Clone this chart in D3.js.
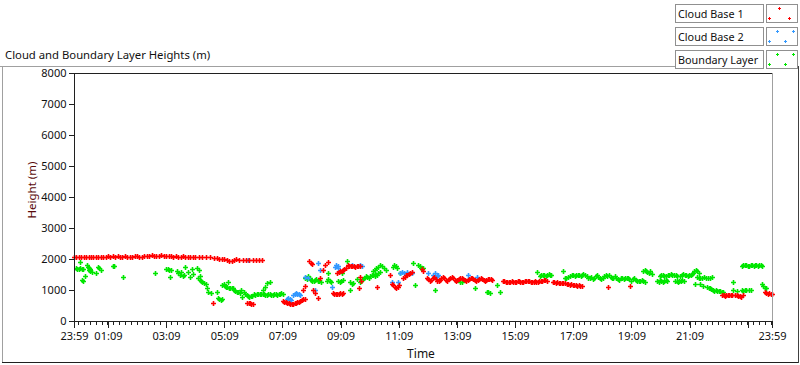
<!DOCTYPE html>
<html><head><meta charset="utf-8">
<script src="https://cdn.jsdelivr.net/npm/d3@7"></script>
<style>
html,body{margin:0;padding:0;background:#fff;}
svg{display:block;font-family:"Noto Sans","Open Sans",sans-serif;}
</style></head><body>
<svg id="c" width="800" height="365"></svg>
<script>
// ---- data (x = minutes after 23:59 of previous day, y = height in m) ----
const seriesNames = ["Cloud Base 1","Cloud Base 2","Boundary Layer"];
const seriesColors = ["#ff0000","#3399ff","#00e600"];

const cloudBase1 = [
[0,2060],[5,2050],[10,2070],[15,2060],[20,2070],[25,2060],[30,2080],[35,2070],[40,2080],[45,2070],[50,2080],[55,2080],[60,2070],[65,2080],[70,2090],[75,2080],[80,2090],[85,2080],[90,2090],[95,2070],[100,2080],[105,2090],[110,2080],[115,2070],[120,2080],[125,2090],[130,2100],[135,2080],[140,2070],[145,2090],[150,2100],[155,2110],[160,2120],[165,2110],[170,2100],[175,2110],[180,2120],[185,2110],[190,2100],[195,2110],[200,2090],[205,2080],[210,2090],[215,2080],[220,2080],[225,2090],[230,2080],[235,2070],[240,2080],[245,2070],[250,2070],[258,2060],[265,2060],[272,2050],[280,2050],[288,2040],[295,2020],[300,2010],[305,2000],[310,1990],[315,1980],[320,1950],[325,1930],[330,1960],[335,1990],[340,1980],[348,1970],[355,1980],[362,1970],[370,1960],[376,1980],[382,1970],[388,1970],
[287,580],[357,590],[360,580],[363,570],[366,560],[369,540],
[431,640],[434,610],[437,600],[440,580],[443,570],[446,560],[449,550],[452,560],[455,570],[458,580],[461,600],[464,620],[467,650],[470,670],[473,700],[476,720],
[477,1130],[472,1000],[485,1930],[488,1880],[491,1840],[493,1000],[497,900],[503,740],
[507,1390],[514,1650],[518,1800],[524,1900],
[534,900],[537,880],[540,880],[543,870],[546,880],[549,890],[552,880],[555,890],
[543,1550],[546,1580],[549,1600],[552,1620],[555,1650],[558,1680],[561,1700],[565,1800],[568,1780],[571,1760],[574,1780],[577,1770],[580,1750],[583,1760],[586,1780],[589,1760],
[590,1420],[588,1060],[592,1300],[625,1100],
[656,1200],[659,1150],[662,1100],[665,1080],[668,1100],[671,1150],[652,1480],
[679,1400],[682,1430],[685,1470],[688,1500],[691,1530],[694,1560],[697,1580],
[718,1680],[721,1620],
[728,1400],[731,1350],[734,1300],[737,1320],[740,1380],[743,1420],[746,1350],[749,1300],[752,1280],[755,1330],[758,1380],[761,1420],[764,1380],[767,1330],[770,1300],
[773,1350],[776,1400],[779,1430],[782,1380],[785,1330],[788,1300],[791,1320],[794,1370],[797,1400],[800,1380],[803,1350],[806,1320],[809,1300],
[812,1330],[815,1360],[818,1400],[821,1380],[824,1350],[827,1320],[830,1300],[833,1330],[836,1360],[839,1380],[842,1350],[845,1320],[848,1300],[851,1320],[854,1350],[857,1370],[860,1340],[863,1310],
[885,1300],[888,1280],[891,1260],[894,1250],[897,1260],[900,1270],[903,1280],[906,1260],[909,1250],[912,1270],[915,1290],[918,1280],[921,1260],[924,1250],[927,1270],[930,1290],[933,1300],[936,1290],[939,1280],
[942,1270],[945,1260],[948,1270],[951,1280],[954,1270],[957,1270],[960,1280],[963,1290],[966,1300],[969,1310],[972,1320],[975,1300],
[988,1260],[991,1250],[994,1240],[997,1250],[1000,1240],[1003,1230],[1006,1240],[1009,1230],[1012,1240],
[1017,1190],[1020,1180],[1023,1170],[1026,1180],[1029,1160],[1032,1170],[1035,1150],[1038,1140],[1041,1150],[1044,1140],[1047,1130],
[1102,1100],[1147,1130],
[1337,840],[1340,830],[1343,820],[1346,830],[1349,840],[1352,830],[1355,840],[1358,850],
[1364,830],[1367,850],[1370,820],[1373,800],[1377,790],[1380,830],
[1425,920],[1428,900],[1431,880],[1434,900],[1437,880],[1440,870]
];

const cloudBase2 = [
[359,1970],
[439,700],[442,730],[445,720],[447,690],
[452,850],[455,870],[458,900],[461,880],[464,860],[466,840],
[477,1420],[482,1400],[497,1000],[503,1870],[507,1650],
[538,1750],[541,1800],[544,1780],[545,1720],[532,1100],
[573,1800],[586,1790],[590,1800],[594,1780],
[656,1250],[668,1260],[672,1560],[676,1580],[680,1550],[687,1570],[697,1560],
[730,1550],[741,1480],[745,1550],[748,1450],[751,1500],
[813,1480],[831,1420]
];

const boundaryLayer = [
[4,1700],[7,1680],[10,1690],[13,1700],[16,1680],[19,1670],[12,1900],[17,1320],[19,1290],[23,1450],
[27,1800],[29,1750],[31,1700],[33,1680],[30,1650],[34,1620],[37,1580],[45,1550],
[50,1750],[52,1700],[55,1650],[80,1760],[83,1780],[101,1420],[167,1550],
[190,1680],[194,1680],[197,1650],[199,1420],[201,1650],
[212,1600],[215,1550],[218,1500],[220,1580],[224,1450],[227,1500],
[229,1750],[235,1580],[239,1420],[243,1680],[245,1520],[254,1720],[257,1660],[260,1450],
[256,1380],[259,1330],[262,1300],[265,1270],[268,1230],[272,1200],
[274,1060],[277,940],[283,900],[295,940],[297,740],[300,700],[303,680],[306,700],
[306,1150],[309,1200],[312,1130],[314,1100],[316,1100],[318,1260],[319,1080],[322,1060],[325,1080],[328,1050],
[330,1000],[333,960],[336,940],[339,920],[342,900],[344,1000],[347,780],[350,920],[353,880],
[356,840],[359,800],[362,780],[365,820],[368,800],
[371,860],[374,850],[377,870],[380,860],[383,880],[386,860],[389,870],[390,1000],[394,1100],[398,1230],[404,1260],
[392,860],[395,850],[398,840],[401,860],[404,870],[407,840],[410,850],[413,860],[416,870],[419,850],[422,860],[425,880],[428,900],[431,870],
[477,1400],[480,1350],[483,1450],[486,1380],[489,1330],[492,1300],[495,1280],[498,1320],[500,1350],[503,1300],[506,1280],[509,1250],
[522,1280],[525,1350],[528,1300],[531,1250],[524,1550],
[545,1300],[548,1250],[551,1280],[554,1320],[553,1550],[563,1940],
[569,1250],[573,1180],[576,1220],[569,1000],[584,1350],
[590,1250],[593,1300],[596,1350],[599,1400],[602,1450],[605,1420],[608,1380],[611,1450],[614,1500],[617,1480],[620,1520],
[622,1450],[625,1500],[628,1550],[631,1580],
[617,1600],[620,1650],[623,1700],[627,1750],[632,1800],[636,1780],[640,1700],[643,1650],
[658,1750],[661,1800],[664,1780],[666,1720],[672,1550],
[699,1870],[703,1160],[710,1800],[713,1760],[716,1720],[719,1700],
[745,1000],[796,1250],[801,1250],[827,1060],[852,920],[855,940],[858,900],[873,1160],[879,940],
[955,1580],
[961,1450],[964,1480],[967,1500],[970,1470],[973,1450],[976,1500],[979,1520],[982,1480],[985,1500],
[1009,1620],[1013,1400],[1016,1380],[1019,1420],[1023,1450],
[1027,1480],[1030,1500],[1033,1450],[1036,1480],[1039,1500],[1042,1480],[1045,1460],[1048,1500],[1051,1520],[1054,1480],
[1058,1450],[1061,1400],[1064,1380],[1067,1420],[1070,1350],[1073,1400],[1076,1450],[1079,1500],[1082,1420],[1085,1380],[1088,1350],[1091,1400],[1094,1460],[1097,1500],[1100,1450],
[1104,1480],[1107,1420],[1110,1380],[1113,1400],[1116,1450],[1119,1380],[1122,1350],[1125,1320],[1128,1380],[1131,1400],[1134,1350],[1137,1380],[1140,1400],[1143,1380],[1146,1350],
[1150,1300],[1153,1350],[1156,1380],[1159,1330],[1162,1300],[1165,1280],[1168,1300],[1171,1320],[1174,1280],[1177,1250],
[1174,1600],[1177,1650],[1180,1620],[1183,1580],[1186,1550],[1189,1600],[1192,1520],
[1203,1300],[1206,1250],[1209,1320],[1212,1280],[1215,1260],[1218,1300],[1221,1330],[1224,1280],
[1209,1450],[1212,1500],[1215,1480],[1218,1460],[1221,1450],[1225,1480],[1228,1500],[1231,1520],[1234,1490],[1238,1500],[1241,1480],[1244,1460],
[1240,1300],[1243,1280],[1246,1250],[1249,1280],[1252,1300],[1255,1320],[1258,1300],
[1251,1450],[1254,1480],[1257,1520],[1260,1500],[1263,1480],[1266,1450],[1269,1480],[1272,1500],[1275,1520],
[1277,1550],[1280,1600],[1283,1650],[1286,1600],[1289,1550],
[1286,1420],[1289,1400],[1292,1380],[1296,1400],[1300,1420],[1304,1400],[1308,1380],[1312,1400],[1316,1420],
[1281,1200],[1291,1190],[1298,1130],
[1306,1100],[1309,1080],[1312,1050],[1315,1030],[1318,1000],[1321,980],[1324,1000],[1327,960],[1330,980],[1333,960],[1336,950],[1339,940],
[1360,1250],[1360,1000],[1368,980],
[1378,990],[1381,980],[1384,1000],[1387,990],[1392,1010],[1396,1000],
[1378,1780],[1381,1800],[1384,1820],[1387,1800],[1390,1780],[1393,1790],[1396,1810],[1399,1800],[1402,1780],[1405,1820],[1408,1800],[1411,1780],[1414,1800],[1417,1820],[1420,1790],
[1419,1200],[1422,1130],[1425,1080],[1428,1050]
];

const yTicks = [0,1000,2000,3000,4000,5000,6000,7000,8000];
const xTickMinutes = [0,70,190,310,430,550,670,790,910,1030,1150,1270,1390,1440];
const xTickLabels = ["23:59","01:09","03:09","05:09","07:09","09:09","11:09","13:09","15:09","17:09","19:09","21:09","","23:59"];

// ---- drawing ----
const svg = d3.select("#c");
const L=74, R=772, T=73, B=321;
const x = d3.scaleLinear().domain([0,1440]).range([L,R]);
const y = d3.scaleLinear().domain([0,8000]).range([B,T]);

// outer frame
const fr = svg.append("g").attr("fill","none").attr("shape-rendering","crispEdges");
fr.append("line").attr("x1",0).attr("x2",676).attr("y1",66.5).attr("y2",66.5).attr("stroke","#a0a0a0");
fr.append("line").attr("x1",2.5).attr("x2",2.5).attr("y1",66).attr("y2",362).attr("stroke","#a0a0a0");
fr.append("line").attr("x1",2).attr("x2",799).attr("y1",362.5).attr("y2",362.5).attr("stroke","#202020");
fr.append("line").attr("x1",798.5).attr("x2",798.5).attr("y1",66).attr("y2",363).attr("stroke","#404040");

// title
svg.append("text").attr("x",5).attr("y",59).attr("font-size",11.3).attr("fill","#111")
  .text("Cloud and Boundary Layer Heights (m)");

// plot background & border
svg.append("rect").attr("x",L).attr("y",T).attr("width",R-L).attr("height",B-T).attr("fill","#fff");

// points
const plus = (px,py)=>`M${px-2.5},${py}h5M${px},${py-2.5}v5`;
const drawSeries = (data,color)=>{
  svg.append("g").selectAll("path").data(data).join("path")
    .attr("d",d=>plus(Math.round(x(d[0]))+0.5,Math.round(y(d[1]))+0.5))
    .attr("stroke",color).attr("stroke-width",1.6).attr("fill","none");
};
drawSeries(boundaryLayer, seriesColors[2]);
drawSeries(cloudBase2, seriesColors[1]);
drawSeries(cloudBase1, seriesColors[0]);

const bd = svg.append("g").attr("shape-rendering","crispEdges");
bd.append("line").attr("x1",L).attr("x2",R).attr("y1",T+0.5).attr("y2",T+0.5).attr("stroke","#202020");
bd.append("line").attr("x1",R+0.5).attr("x2",R+0.5).attr("y1",T).attr("y2",B).attr("stroke","#a0a0a0");

// y axis
const yAxis = d3.axisLeft(y).tickValues(yTicks).tickSize(6).tickPadding(2).tickFormat(d3.format("d"));
const gy = svg.append("g").attr("transform",`translate(${L+0.5},0)`).call(yAxis);
gy.select(".domain").attr("stroke","#202020").attr("d",`M0,${T}V${B}`);
gy.selectAll(".tick line").attr("stroke","#202020");
gy.selectAll("text").attr("font-size",11).attr("fill","#111").attr("font-family","'Noto Sans',sans-serif");
gy.attr("shape-rendering","crispEdges");

// x axis minor ticks (every 12 min)
const minor = d3.range(9,1440,12).filter(m=>!xTickMinutes.includes(m));
svg.append("g").attr("shape-rendering","crispEdges").selectAll("line").data(minor).join("line")
  .attr("x1",d=>Math.round(x(d))+0.5).attr("x2",d=>Math.round(x(d))+0.5)
  .attr("y1",B).attr("y2",B+4).attr("stroke","#202020");

const xAxis = d3.axisBottom(x).tickValues(xTickMinutes).tickSize(6).tickPadding(5)
  .tickFormat((d,i)=>xTickLabels[i]);
const gx = svg.append("g").attr("transform",`translate(0,${B+0.5})`).call(xAxis);
gx.attr("shape-rendering","crispEdges");
gx.select(".domain").attr("stroke","#202020").attr("d",`M${L},0H${R+1}`);
gx.selectAll(".tick line").attr("stroke","#202020");
gx.selectAll("text").attr("font-size",11).attr("fill","#111").attr("font-family","'Noto Sans',sans-serif");

// axis titles
svg.append("text").attr("x",421).attr("y",358).attr("text-anchor","middle").attr("font-size",12).attr("fill","#111").text("Time");
svg.append("text").attr("transform","translate(36,190) rotate(-90)").attr("text-anchor","middle")
  .attr("font-size",11.5).attr("fill","#5a0a0a").text("Height (m)");

// legend
const lg = svg.append("g");
const rowsY = [4,27,50];
const markerOffsets = [[[12,3],[2,13],[22,13]],[[10,3],[26,3],[2,13],[18,13]],[[10,3],[26,3],[2,13],[18,13]]];
seriesNames.forEach((name,i)=>{
  const g = lg.append("g").attr("transform",`translate(0,${rowsY[i]})`);
  g.append("rect").attr("x",675.5).attr("y",0.5).attr("width",88).attr("height",18)
    .attr("fill","#fff").attr("stroke","#909090").attr("shape-rendering","crispEdges");
  g.append("text").attr("x",678).attr("y",14).attr("font-size",10.8).attr("fill","#111").text(name);
  g.append("rect").attr("x",766.5).attr("y",0.5).attr("width",31).attr("height",18)
    .attr("fill","#fff").attr("stroke","#909090").attr("shape-rendering","crispEdges");
  g.selectAll("path").data(markerOffsets[i]).join("path")
    .attr("d",d=>`M${767+d[0]-1},${d[1]+1.5}h3M${767+d[0]+0.5},${d[1]}v3`)
    .attr("stroke",seriesColors[i]).attr("stroke-width",1).attr("fill","none");
});
</script>
</body></html>
